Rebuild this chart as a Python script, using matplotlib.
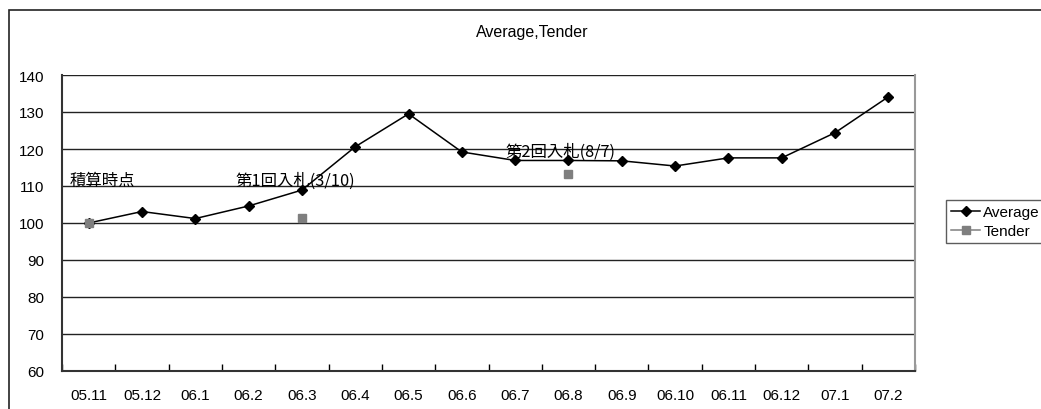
import matplotlib.pyplot as plt
import matplotlib.patches as patches
from matplotlib.lines import Line2D
import numpy as np

plt.rcParams['font.family'] = ['Liberation Sans', 'Noto Sans CJK JP', 'DejaVu Sans']

months = ['05.11', '05.12', '06.1', '06.2', '06.3', '06.4', '06.5', '06.6',
          '06.7', '06.8', '06.9', '06.10', '06.11', '06.12', '07.1', '07.2']
average = [100.0, 103.1, 101.2, 104.6, 108.9, 120.6, 129.5, 119.2,
           116.9, 116.9, 116.8, 115.4, 117.6, 117.6, 124.4, 134.1]
tender_months = ['05.11', '06.3', '06.8']
tender = [100.0, 101.3, 113.3]

notes = ['積算時点', '第1回入札(3/10)', '第2回入札(8/7)']
note_x = [-0.35, 2.76, 7.81]
note_y = [111.5, 111.5, 119.4]

W, H = 1041, 410
fig = plt.figure(figsize=(W / 100, H / 100), dpi=100)
fig.patch.set_facecolor('white')

# outer chart frame
fig.patches.append(patches.Rectangle((9 / W, -0.1), 1.2, 1 - 11 / H + 0.1,
                                     transform=fig.transFigure, fill=False,
                                     edgecolor='#222222', linewidth=1.2))

ax = fig.add_axes([62 / W, (H - 372) / H, (915 - 62) / W, (372 - 76) / H])
x = np.arange(len(months))
xt = [months.index(m) for m in tender_months]

ax.plot(x, average, color='black', marker='D', markersize=5, linewidth=1.1, zorder=3)
ax.plot(xt, tender, color='#7f7f7f', marker='s', markersize=6, linestyle='none', zorder=3)

jp = ['Noto Sans CJK JP', 'DejaVu Sans']
for txt, nx, ny in zip(notes, note_x, note_y):
    ax.text(nx, ny, txt, fontsize=11.8, va='center', ha='left', color='black',
            family=jp, zorder=4)

ax.set_xlim(-0.5, len(months) - 0.5)
ax.set_ylim(60, 140)
ax.set_yticks(range(60, 141, 10))
ax.set_xticks(x)
ax.set_xticklabels(months)
ax.set_xticks(np.arange(-0.5, len(months), 1), minor=True)
ax.tick_params(axis='x', which='major', length=0, pad=12, labelsize=11)
ax.tick_params(axis='x', which='minor', length=5, direction='in', width=1)
ax.tick_params(axis='y', length=0, pad=13, labelsize=11)
ax.yaxis.grid(True, color='#222222', linewidth=1)
ax.set_axisbelow(True)
for s in ['left', 'bottom']:
    ax.spines[s].set_color('#333333')
    ax.spines[s].set_linewidth(1.5)
ax.spines['top'].set_visible(False)
ax.spines['right'].set_color('#999999')
ax.spines['right'].set_linewidth(1.5)

fig.text(532 / W, 1 - 33 / H, 'Average,Tender', ha='center', va='center', fontsize=11.5)

handles = [Line2D([], [], color='black', marker='D', markersize=5, linewidth=1.1),
           Line2D([], [], color='#7f7f7f', marker='s', markersize=6, linewidth=1.1)]
fig.legend(handles=handles, labels=['Average', 'Tender'], loc='upper left',
           bbox_to_anchor=(946 / W, 1 - 201 / H), fontsize=11, frameon=True,
           fancybox=False, edgecolor='#333333', borderpad=0.35, labelspacing=0.3,
           handlelength=1.9, handletextpad=0.2, borderaxespad=0)

fig.savefig('out.png', dpi=100)
